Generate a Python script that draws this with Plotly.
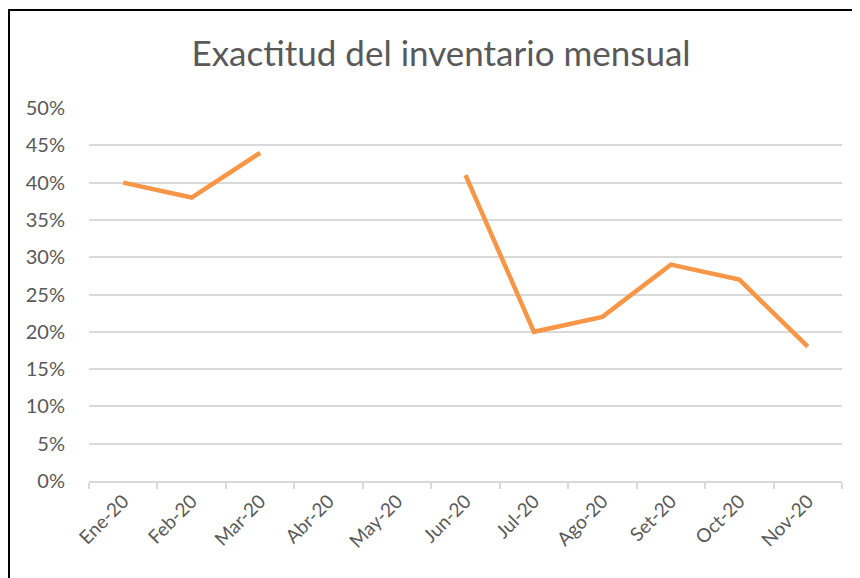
import plotly.graph_objects as go

months = ["Ene-20", "Feb-20", "Mar-20", "Abr-20", "May-20", "Jun-20",
          "Jul-20", "Ago-20", "Set-20", "Oct-20", "Nov-20"]
exactitud = [0.40, 0.38, 0.44, None, None, 0.41, 0.20, 0.22, 0.29, 0.27, 0.18]

OFF = 8  # page body margin
W, H = 860 - OFF, 578 - OFF
L, T = 89 - OFF, 108 - OFF
R = W - (842 - OFF)
B = H - (481 - OFF)
pw, ph = W - L - R, H - T - B


def px(xp):  # page x -> paper fraction
    return (xp - 89) / pw


def py(yp):  # page y -> paper fraction
    return (481 - yp) / ph


fig = go.Figure()
fig.add_trace(go.Scatter(
    x=months, y=exactitud, mode="lines",
    line=dict(color="#F79646", width=4.5),
    connectgaps=False, showlegend=False, hoverinfo="skip",
))

font = "Lato, Calibri, Carlito, sans-serif"
frame = dict(color="black", width=2)
fig.update_layout(
    width=W, height=H,
    margin=dict(l=L, r=R, t=T, b=B),
    paper_bgcolor="white", plot_bgcolor="white",
    font=dict(family=font, color="#595959", size=20),
    title=dict(text="Exactitud del inventario mensual",
               font=dict(family=font, size=35, color="#595959"),
               x=(441 - OFF) / W, xanchor="center", xref="container",
               y=1 - (54 - OFF) / H, yanchor="middle"),
    xaxis=dict(type="category", range=[-0.5, len(months) - 0.5],
               showgrid=False, showline=True,
               linecolor="#D9D9D9", linewidth=1.5,
               ticks="outside", tickson="boundaries", ticklen=6,
               tickcolor="#D9D9D9", tickwidth=1.5, tickangle=-45,
               tickfont=dict(size=19, color="#595959"), fixedrange=True),
    yaxis=dict(range=[0, 0.5], dtick=0.05, tickformat=".0%",
               showgrid=True, gridcolor="#D9D9D9", gridwidth=1.5,
               zeroline=False, showline=False, ticks="",
               ticklabelstandoff=23,
               tickfont=dict(size=20, color="#595959"), fixedrange=True),
    shapes=[
        dict(type="line", xref="paper", yref="paper",
             x0=px(9), x1=px(9), y0=py(10), y1=py(600), line=frame),
        dict(type="line", xref="paper", yref="paper",
             x0=px(8), x1=px(858), y0=py(10), y1=py(10), line=frame),
    ],
)

fig.write_html("out.html")
